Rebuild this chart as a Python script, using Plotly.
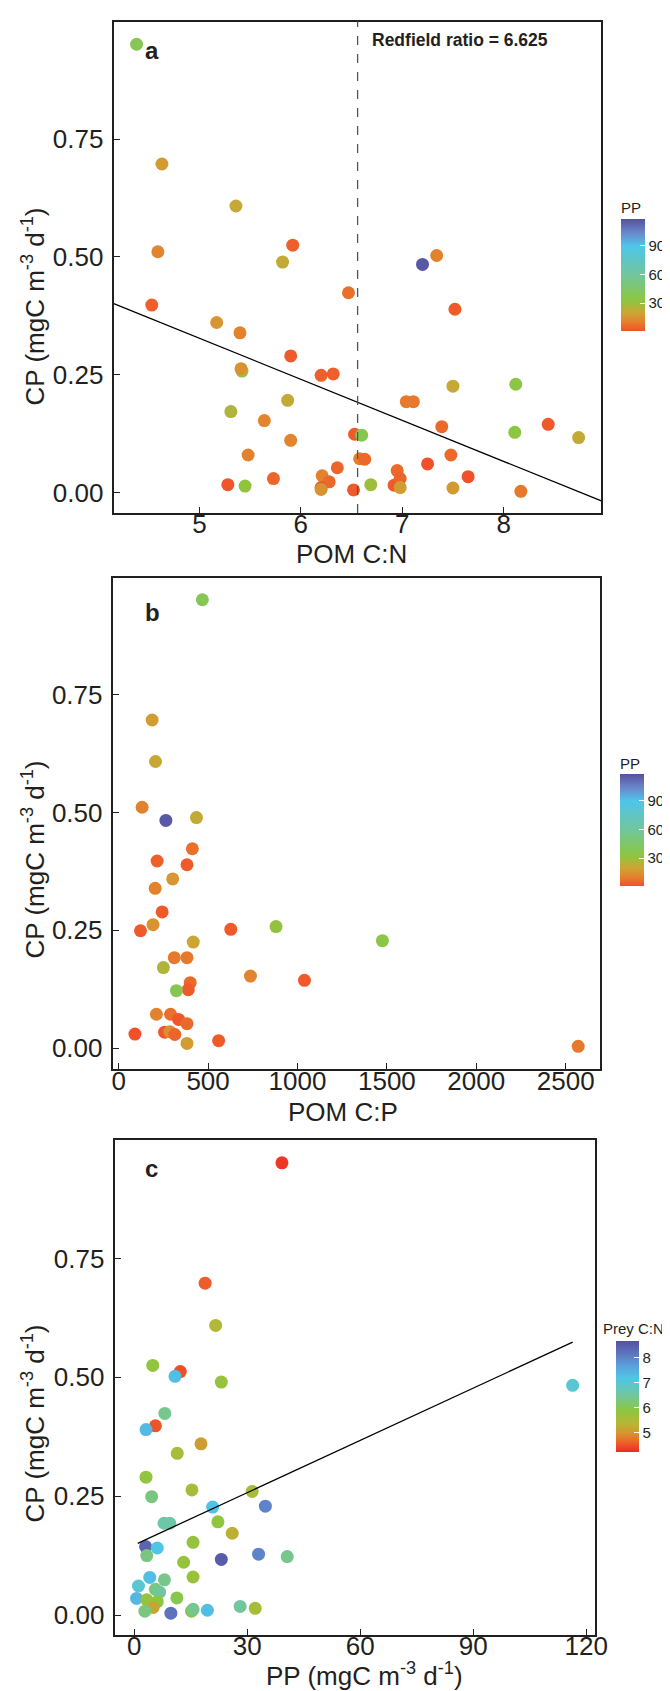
import plotly.graph_objects as go

# ---------------- data ----------------
# Panel a: POM C:N vs CP, coloured by PP
cn_a = [4.38, 4.63, 5.36, 4.59, 5.92, 5.82, 7.20, 7.34, 6.47, 4.53, 7.52, 5.17, 5.40, 5.90,
        5.42, 5.41, 6.20, 6.32, 7.50, 8.12, 5.87, 7.04, 7.11, 5.31, 5.64, 7.39, 8.44, 6.53,
        6.60, 8.11, 8.74, 5.90, 5.48, 6.58, 6.63, 6.36, 7.25, 7.48, 6.95, 7.65, 5.73, 5.28,
        5.45, 6.21, 6.28, 6.20, 6.20, 6.52, 6.69, 6.92, 6.98, 6.98, 7.50, 8.17]
cp_a = [0.951, 0.697, 0.608, 0.511, 0.525, 0.489, 0.484, 0.503, 0.424, 0.398, 0.389, 0.361,
        0.339, 0.290, 0.258, 0.263, 0.249, 0.252, 0.226, 0.230, 0.196, 0.193, 0.193, 0.172,
        0.153, 0.140, 0.145, 0.124, 0.122, 0.128, 0.117, 0.111, 0.080, 0.072, 0.071, 0.053,
        0.061, 0.080, 0.047, 0.034, 0.030, 0.017, 0.014, 0.036, 0.023, 0.011, 0.007, 0.006,
        0.017, 0.016, 0.030, 0.011, 0.010, 0.003]
pp_a = [39, 18, 21, 12, 4, 22, 116, 11, 7, 4, 3, 16, 11, 3, 31, 15, 4, 4, 21, 35, 22, 9, 9,
        26, 12, 6, 3, 3, 38, 33, 22, 12, 11, 10, 6, 5, 1, 6, 6, 1, 5, 2, 32, 11, 6, 3, 15, 3,
        29, 3, 5, 18, 17, 9]

# Panel b: POM C:P vs CP, coloured by PP
cpr_b = [468, 187, 206, 131, 264, 435, 412, 215, 382, 302, 204, 243, 122, 192, 627, 880,
         1475, 417, 311, 382, 250, 737, 1039, 400, 389, 323, 211, 290, 335, 382, 91, 257,
         286, 314, 382, 559, 2570]
cp_b = [0.951, 0.696, 0.608, 0.511, 0.483, 0.489, 0.423, 0.397, 0.389, 0.359, 0.339, 0.289,
        0.249, 0.262, 0.252, 0.258, 0.228, 0.225, 0.192, 0.192, 0.171, 0.153, 0.144, 0.139,
        0.124, 0.122, 0.072, 0.072, 0.061, 0.052, 0.030, 0.034, 0.035, 0.029, 0.010, 0.016,
        0.004]
pp_b = [39, 18, 21, 11, 116, 22, 7, 4, 3, 16, 11, 3, 3, 15, 3, 31, 35, 20, 9, 9, 26, 12, 3,
        6, 3, 38, 11, 7, 2, 6, 1, 2, 14, 5, 18, 3, 9]

# Panel c: PP vs CP, coloured by prey C:N
pp_c = [39.2, 18.8, 21.6, 4.9, 12.2, 10.8, 23.1, 116.4, 8.1, 5.6, 3.1, 17.7, 11.4, 3.1, 4.6,
        15.3, 31.3, 20.8, 34.8, 7.9, 9.4, 22.2, 26.0, 3.0, 6.1, 3.3, 15.6, 33.0, 40.6, 23.1,
        13.1, 4.1, 8.0, 15.6, 1.1, 5.6, 6.7, 0.6, 3.3, 11.3, 6.1, 5.0, 2.8, 9.7, 15.2, 15.6,
        19.4, 28.1, 32.1]
cp_c = [0.951, 0.698, 0.609, 0.525, 0.512, 0.502, 0.490, 0.483, 0.424, 0.398, 0.390, 0.360,
        0.340, 0.290, 0.249, 0.263, 0.260, 0.227, 0.229, 0.193, 0.193, 0.196, 0.172, 0.144,
        0.141, 0.125, 0.153, 0.128, 0.123, 0.117, 0.111, 0.079, 0.074, 0.080, 0.061, 0.054,
        0.048, 0.035, 0.032, 0.036, 0.028, 0.016, 0.008, 0.004, 0.008, 0.012, 0.010, 0.018,
        0.014]
preycn_c = [4.35, 4.6, 5.45, 5.85, 4.5, 7.3, 5.8, 7.0, 6.4, 4.55, 7.35, 5.1, 5.6, 5.85, 6.3,
            5.6, 5.55, 7.25, 8.0, 6.6, 6.6, 5.85, 5.3, 8.4, 7.2, 6.3, 5.8, 8.0, 6.4, 8.5, 5.8,
            7.3, 6.4, 5.75, 7.0, 6.3, 6.5, 7.4, 5.8, 6.0, 5.9, 5.2, 6.3, 8.2, 6.0, 6.4, 7.3,
            6.5, 5.55]

# fitted lines (intercept, slope)
fit_a = (0.7625, -0.0870)
fit_c = (0.1475, 0.003663)
redfield_x = 6.56
redfield_label = "Redfield ratio = 6.625"

x_ticks_a = [5, 6, 7, 8]
x_ticks_b = [0, 500, 1000, 1500, 2000, 2500]
x_ticks_c = [0, 30, 60, 90, 120]
y_ticks = [0.0, 0.25, 0.5, 0.75]
y_tick_text = ["0.00", "0.25", "0.50", "0.75"]
pp_bar_ticks = [30, 60, 90]
cn_bar_ticks = [5, 6, 7, 8]

# ---------------- style ----------------
W, H = 670, 1691
FONT = "Liberation Sans, Arial, sans-serif"
DARK = "#231F20"

def px(x):
    return x / W

def py(y):
    return 1 - y / H

pp_scale = [
    [0.0, "#F2502A"], [0.08, "#E5802C"], [0.16, "#CDA435"], [0.27, "#8DC63F"],
    [0.50, "#72C69C"], [0.76, "#4EC5EA"], [0.88, "#6A86C8"], [1.0, "#5650A1"],
]
cn_scale = [
    [0.0, "#EE2A24"], [0.10, "#EC6A2A"], [0.17, "#D6952F"], [0.26, "#B5B736"],
    [0.373, "#8DC63F"], [0.51, "#72C69E"], [0.667, "#4FC6E6"], [0.78, "#5B9FDC"],
    [0.894, "#5E72BC"], [1.0, "#5550A1"],
]

fig = go.Figure()

fig.add_trace(go.Scatter(
    x=cn_a, y=cp_a, mode="markers", xaxis="x", yaxis="y",
    marker=dict(size=13, color=pp_a, coloraxis="coloraxis"), showlegend=False))
fig.add_trace(go.Scatter(
    x=cpr_b, y=cp_b, mode="markers", xaxis="x2", yaxis="y2",
    marker=dict(size=13, color=pp_b, coloraxis="coloraxis2"), showlegend=False))
fig.add_trace(go.Scatter(
    x=pp_c, y=cp_c, mode="markers", xaxis="x3", yaxis="y3",
    marker=dict(size=13, color=preycn_c, coloraxis="coloraxis3"), showlegend=False))

# regression lines
xr_a = [4.155, 8.964]
fig.add_trace(go.Scatter(
    x=xr_a, y=[fit_a[0] + fit_a[1] * v for v in xr_a], mode="lines",
    line=dict(color="black", width=1.3), xaxis="x", yaxis="y", showlegend=False,
    hoverinfo="skip"))
xr_c = [min(pp_c) + 0.3, max(pp_c)]
fig.add_trace(go.Scatter(
    x=xr_c, y=[fit_c[0] + fit_c[1] * v for v in xr_c], mode="lines",
    line=dict(color="black", width=1.3), xaxis="x3", yaxis="y3", showlegend=False,
    hoverinfo="skip"))

def xaxis(dom, rng, ticks, anchor):
    return dict(domain=dom, range=rng, tickvals=ticks, anchor=anchor,
                showline=True, mirror=True, linecolor=DARK, linewidth=2.2,
                ticks="inside", ticklen=6, tickwidth=1.2, tickcolor=DARK,
                ticklabelstandoff=-13,
                showgrid=False, zeroline=False,
                tickfont=dict(family=FONT, size=26, color=DARK))

def yaxis(dom, rng, anchor):
    return dict(domain=dom, range=rng, tickvals=y_ticks, ticktext=y_tick_text,
                anchor=anchor,
                showline=True, mirror=True, linecolor=DARK, linewidth=2.2,
                ticks="inside", ticklen=6, tickwidth=1.2, tickcolor=DARK,
                ticklabelstandoff=3,
                showgrid=False, zeroline=False,
                tickfont=dict(family=FONT, size=26, color=DARK))

def cbar(ticks, xp, yc, ln, th):
    return dict(tickvals=ticks, ticks="inside", ticklen=5, tickcolor="white",
                tickwidth=1, outlinewidth=0, thickness=th, len=ln, lenmode="pixels",
                x=xp, xanchor="left", y=yc, yanchor="middle", xpad=0, ypad=0,
                tickfont=dict(family=FONT, size=15, color=DARK))

fig.update_layout(
    width=W, height=H, autosize=False,
    margin=dict(l=0, r=0, t=0, b=0),
    paper_bgcolor="white", plot_bgcolor="white",
    xaxis=xaxis([px(107), px(605)], [4.155, 8.964], x_ticks_a, "y"),
    yaxis=yaxis([py(505), py(13.6)], [-0.043, 0.999], "x"),
    xaxis2=xaxis([px(106), px(604)], [-33, 2694], x_ticks_b, "y2"),
    yaxis2=yaxis([py(1061.4), py(569.6)], [-0.045, 0.998], "x2"),
    xaxis3=xaxis([px(108), px(598)], [-5.2, 122.2], x_ticks_c, "y3"),
    yaxis3=yaxis([py(1627), py(1132)], [-0.042, 0.999], "x3"),
    coloraxis=dict(colorscale=pp_scale, cmin=1, cmax=118,
                   colorbar=cbar(pp_bar_ticks, px(625), py(267), 112, 24)),
    coloraxis2=dict(colorscale=pp_scale, cmin=1, cmax=118,
                    colorbar=cbar(pp_bar_ticks, px(624), py(822), 112, 24)),
    coloraxis3=dict(colorscale=cn_scale, cmin=4.25, cmax=8.67,
                    colorbar=cbar(cn_bar_ticks, px(620), py(1388), 111, 23)),
)

# Redfield dashed line
fig.add_shape(type="line", xref="x", yref="y domain", x0=redfield_x, x1=redfield_x,
              y0=0, y1=1, line=dict(color="#555555", width=1.3, dash="dash"))

ann = []
ytitle = "CP (mgC m<sup>-3</sup> d<sup>-1</sup>)"
for yc in (298, 851, 1415):
    ann.append(dict(text=ytitle, x=px(25), y=py(yc), xref="paper", yref="paper",
                    textangle=-90, showarrow=False, xanchor="center", yanchor="middle",
                    font=dict(family=FONT, size=26, color=DARK)))
for txt, xc, yc in (("POM C:N", 350, 546), ("POM C:P", 341, 1104),
                    ("PP (mgC m<sup>-3</sup> d<sup>-1</sup>)", 363, 1666)):
    ann.append(dict(text=txt, x=px(xc), y=py(yc), xref="paper", yref="paper",
                    showarrow=False, xanchor="center", yanchor="middle",
                    font=dict(family=FONT, size=26, color=DARK)))
for txt, xc, yc in (("a", 146, 42), ("b", 147, 604), ("c", 146, 1160)):
    ann.append(dict(text="<b>%s</b>" % txt, x=px(xc), y=py(yc), xref="paper",
                    yref="paper", showarrow=False, xanchor="center", yanchor="middle",
                    font=dict(family=FONT, size=24, color=DARK)))
ann.append(dict(text="<b>%s</b>" % redfield_label, x=px(369), y=py(32), xref="paper",
                yref="paper", showarrow=False, xanchor="left", yanchor="middle",
                font=dict(family=FONT, size=17.5, color=DARK)))
# colour bar titles
for txt, xl, yc in (("PP", 623, 199), ("PP", 622, 755), ("Prey C:N", 605, 1320)):
    ann.append(dict(text=txt, x=px(xl), y=py(yc), xref="paper", yref="paper",
                    showarrow=False, xanchor="left", yanchor="middle",
                    font=dict(family=FONT, size=15, color=DARK)))
fig.update_layout(annotations=ann)

fig.write_html("out.html")
